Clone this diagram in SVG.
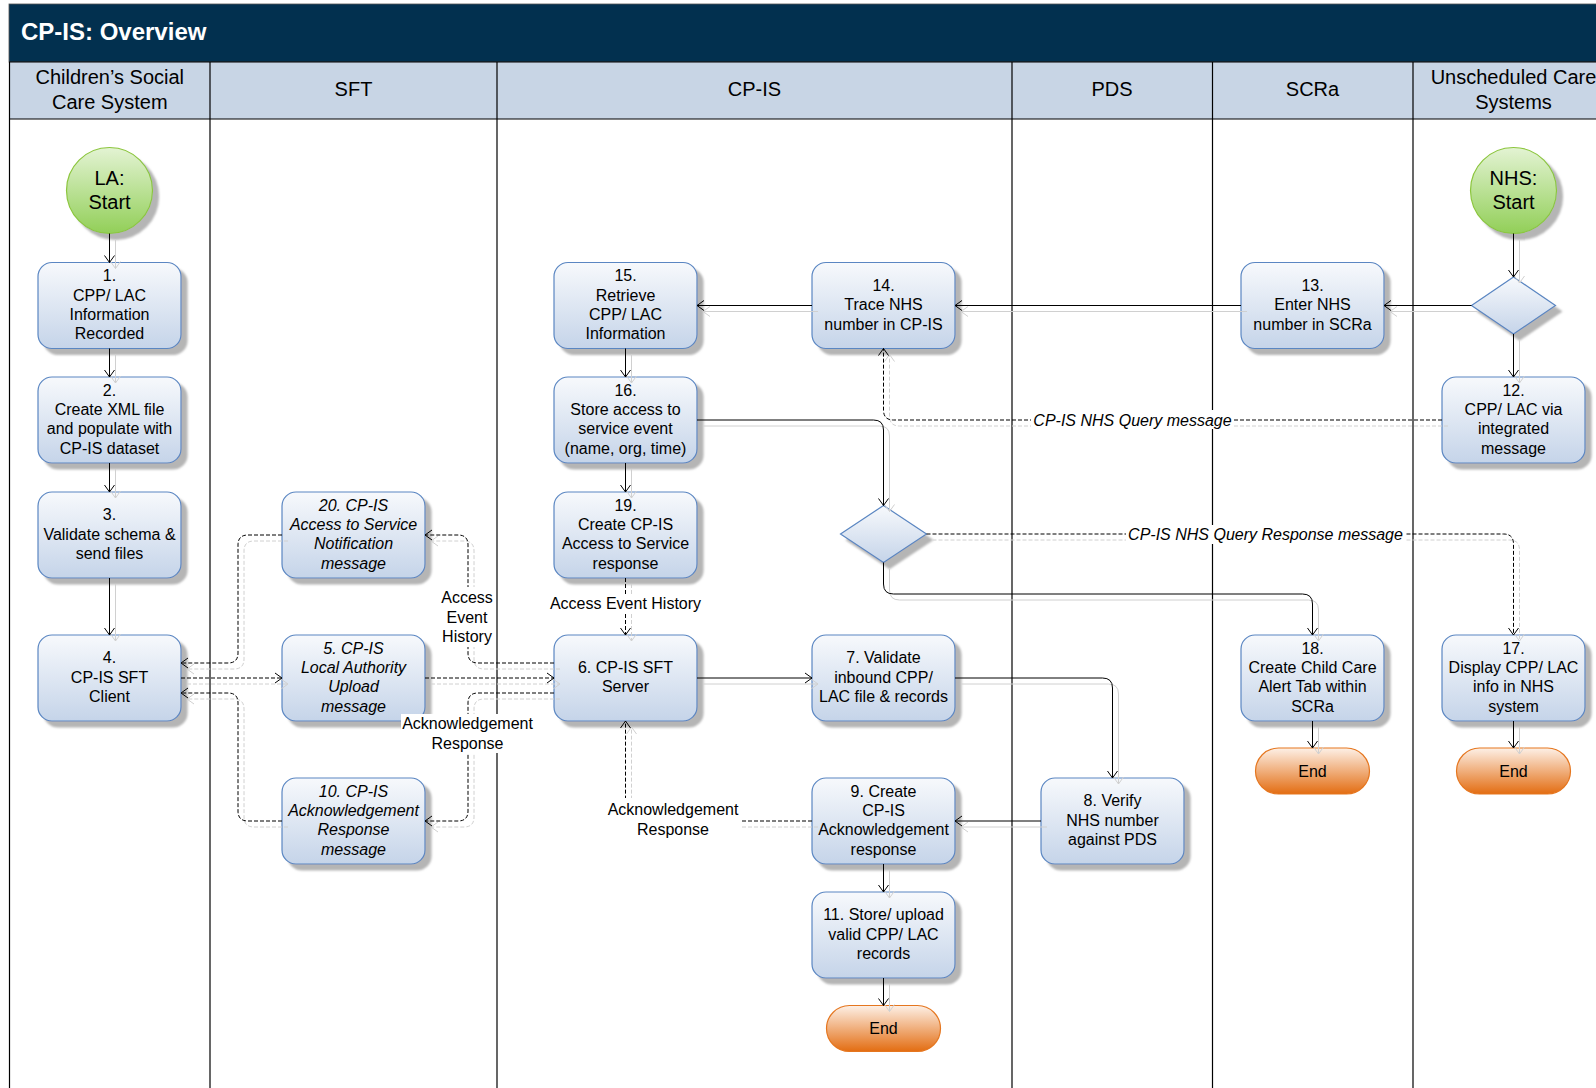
<svg xmlns="http://www.w3.org/2000/svg" xmlns:xlink="http://www.w3.org/1999/xlink" width="1596" height="1088" viewBox="0 0 1596 1088">
<defs>
<style>
text { font-family: "Liberation Sans", Arial, sans-serif; fill: #000; }
.t { font-size: 16px; text-anchor: middle; }
.it { font-style: italic; }
.h { font-size: 20px; text-anchor: middle; }
.big { font-size: 20px; text-anchor: middle; }
.title { font-size: 24px; font-weight: bold; fill: #ffffff; }
.box { fill: url(#gBox); stroke: #5a86c2; stroke-width: 1.2; filter: url(#sh); }
.start { fill: url(#gGreen); stroke: #8cc63e; stroke-width: 1.2; filter: url(#sh); }
.end { fill: url(#gOrange); stroke: #e5761f; stroke-width: 1.2; }
.lane { stroke: #000; stroke-width: 1.2; fill: none; }
.d { stroke-dasharray: 4 2; }
.lblbg { fill: #ffffff; }
</style>
<linearGradient id="gBox" x1="0" y1="0" x2="0" y2="1">
<stop offset="0" stop-color="#f7f9fc"/>
<stop offset="1" stop-color="#c5d4e9"/>
</linearGradient>
<linearGradient id="gGreen" x1="0" y1="0" x2="0" y2="1">
<stop offset="0" stop-color="#e3f3d3"/>
<stop offset="1" stop-color="#92cf58"/>
</linearGradient>
<linearGradient id="gOrange" x1="0" y1="0" x2="0" y2="1">
<stop offset="0" stop-color="#fdf0e6"/>
<stop offset="1" stop-color="#e36d12"/>
</linearGradient>
<filter id="sh" x="-10%" y="-10%" width="130%" height="135%">
<feGaussianBlur in="SourceAlpha" stdDeviation="1.2" result="blur"/>
<feOffset in="blur" dx="6" dy="6" result="off"/>
<feFlood flood-color="#b5b5b5"/>
<feComposite in2="off" operator="in" result="shd"/>
<feMerge><feMergeNode in="shd"/><feMergeNode in="SourceGraphic"/></feMerge>
</filter>
<marker id="ah" markerUnits="userSpaceOnUse" viewBox="-9 -7 10 14" refX="0" refY="0" markerWidth="10" markerHeight="14" orient="auto">
<path d="M-7,-5 L0,0 L-7,5" fill="none" stroke="#000" stroke-width="1"/>
</marker>
<marker id="ahg" markerUnits="userSpaceOnUse" viewBox="-9 -7 10 14" refX="0" refY="0" markerWidth="10" markerHeight="14" orient="auto">
<path d="M-7,-5 L0,0 L-7,5" fill="none" stroke="#d0d0d0" stroke-width="1"/>
</marker>
</defs>

<rect x="0" y="0" width="1596" height="1088" fill="#ffffff"/>

<!-- Title and lane headers -->
<g id="header">
<rect x="9" y="4" width="1600" height="58" fill="#02304f" stroke="#555" stroke-width="0.8"/>
<text class="title" x="21" y="40">CP-IS: Overview</text>
<rect x="9" y="62" width="1600" height="57" fill="#c8d5e5"/>
<line class="lane" x1="9" y1="62" x2="1596" y2="62"/>
<line class="lane" x1="9" y1="119" x2="1596" y2="119"/>
<text class="h" x="109.75" y="84">Children’s Social</text>
<text class="h" x="109.75" y="109">Care System</text>
<text class="h" x="353.5" y="96">SFT</text>
<text class="h" x="754.5" y="96">CP-IS</text>
<text class="h" x="1112" y="96">PDS</text>
<text class="h" x="1312.5" y="96">SCRa</text>
<text class="h" x="1513.5" y="84">Unscheduled Care</text>
<text class="h" x="1513.5" y="109">Systems</text>
</g>

<g id="lanes">
<line class="lane" x1="9.5" y1="62" x2="9.5" y2="1088"/>
<line class="lane" x1="210" y1="62" x2="210" y2="1088"/>
<line class="lane" x1="497" y1="62" x2="497" y2="1088"/>
<line class="lane" x1="1012" y1="62" x2="1012" y2="1088"/>
<line class="lane" x1="1212.5" y1="62" x2="1212.5" y2="1088"/>
<line class="lane" x1="1413" y1="62" x2="1413" y2="1088"/>
</g>

<g id="nodes">
<g id="n-la-start">
<circle class="start" cx="109.5" cy="190.5" r="43"/>
<text class="big" x="109.5" y="185">LA:</text>
<text class="big" x="109.5" y="209">Start</text>
</g>
<g id="n1">
<rect class="box" x="38" y="262.5" width="143" height="86" rx="14"/>
<text class="t" x="109.5" y="281.3">1.</text>
<text class="t" x="109.5" y="300.6">CPP/ LAC</text>
<text class="t" x="109.5" y="319.9">Information</text>
<text class="t" x="109.5" y="339.2">Recorded</text>
</g>
<g id="n2">
<rect class="box" x="38" y="377" width="143" height="86" rx="14"/>
<text class="t" x="109.5" y="395.8">2.</text>
<text class="t" x="109.5" y="415.1">Create XML file</text>
<text class="t" x="109.5" y="434.4">and populate with</text>
<text class="t" x="109.5" y="453.7">CP-IS dataset</text>
</g>
<g id="n3">
<rect class="box" x="38" y="492" width="143" height="86" rx="14"/>
<text class="t" x="109.5" y="520.4">3.</text>
<text class="t" x="109.5" y="539.7">Validate schema &amp;</text>
<text class="t" x="109.5" y="559">send files</text>
</g>
<g id="n4">
<rect class="box" x="38" y="635" width="143" height="86" rx="14"/>
<text class="t" x="109.5" y="663.4">4.</text>
<text class="t" x="109.5" y="682.7">CP-IS SFT</text>
<text class="t" x="109.5" y="702">Client</text>
</g>
<g id="n20">
<rect class="box" x="282" y="492" width="143" height="86" rx="14"/>
<text class="t it" x="353.5" y="510.8">20. CP-IS</text>
<text class="t it" x="353.5" y="530.1">Access to Service</text>
<text class="t it" x="353.5" y="549.4">Notification</text>
<text class="t it" x="353.5" y="568.7">message</text>
</g>
<g id="n5">
<rect class="box" x="282" y="635" width="143" height="86" rx="14"/>
<text class="t it" x="353.5" y="653.8">5. CP-IS</text>
<text class="t it" x="353.5" y="673.1">Local Authority</text>
<text class="t it" x="353.5" y="692.4">Upload</text>
<text class="t it" x="353.5" y="711.7">message</text>
</g>
<g id="n10">
<rect class="box" x="282" y="778" width="143" height="86" rx="14"/>
<text class="t it" x="353.5" y="796.8">10. CP-IS</text>
<text class="t it" x="353.5" y="816.1">Acknowledgement</text>
<text class="t it" x="353.5" y="835.4">Response</text>
<text class="t it" x="353.5" y="854.7">message</text>
</g>
<g id="n15">
<rect class="box" x="554" y="262.5" width="143" height="86" rx="14"/>
<text class="t" x="625.5" y="281.3">15.</text>
<text class="t" x="625.5" y="300.6">Retrieve</text>
<text class="t" x="625.5" y="319.9">CPP/ LAC</text>
<text class="t" x="625.5" y="339.2">Information</text>
</g>
<g id="n16">
<rect class="box" x="554" y="377" width="143" height="86" rx="14"/>
<text class="t" x="625.5" y="395.8">16.</text>
<text class="t" x="625.5" y="415.1">Store access to</text>
<text class="t" x="625.5" y="434.4">service event</text>
<text class="t" x="625.5" y="453.7">(name, org, time)</text>
</g>
<g id="n19">
<rect class="box" x="554" y="492" width="143" height="86" rx="14"/>
<text class="t" x="625.5" y="510.8">19.</text>
<text class="t" x="625.5" y="530.1">Create CP-IS</text>
<text class="t" x="625.5" y="549.4">Access to Service</text>
<text class="t" x="625.5" y="568.7">response</text>
</g>
<g id="n6">
<rect class="box" x="554" y="635" width="143" height="86" rx="14"/>
<text class="t" x="625.5" y="672.5">6. CP-IS SFT</text>
<text class="t" x="625.5" y="691.8">Server</text>
</g>
<g id="n14">
<rect class="box" x="812" y="262.5" width="143" height="86" rx="14"/>
<text class="t" x="883.5" y="290.9">14.</text>
<text class="t" x="883.5" y="310.2">Trace NHS</text>
<text class="t" x="883.5" y="329.5">number in CP-IS</text>
</g>
<g id="n-d2">
<polygon class="box" points="883.5,505.5 926.5,534 883.5,562.5 840.5,534"/>
</g>
<g id="n7">
<rect class="box" x="812" y="635" width="143" height="86" rx="14"/>
<text class="t" x="883.5" y="663.4">7. Validate</text>
<text class="t" x="883.5" y="682.7">inbound CPP/</text>
<text class="t" x="883.5" y="702">LAC file &amp; records</text>
</g>
<g id="n9">
<rect class="box" x="812" y="778" width="143" height="86" rx="14"/>
<text class="t" x="883.5" y="796.8">9. Create</text>
<text class="t" x="883.5" y="816.1">CP-IS</text>
<text class="t" x="883.5" y="835.4">Acknowledgement</text>
<text class="t" x="883.5" y="854.7">response</text>
</g>
<g id="n11">
<rect class="box" x="812" y="892" width="143" height="86" rx="14"/>
<text class="t" x="883.5" y="920.4">11. Store/ upload</text>
<text class="t" x="883.5" y="939.7">valid CPP/ LAC</text>
<text class="t" x="883.5" y="959">records</text>
</g>
<g id="n-end1">
<rect class="end" x="826.5" y="1005.5" width="114" height="46" rx="23"/>
<text class="t" x="883.5" y="1034.2">End</text>
</g>
<g id="n8">
<rect class="box" x="1041" y="778" width="143" height="86" rx="14"/>
<text class="t" x="1112.5" y="806.4">8. Verify</text>
<text class="t" x="1112.5" y="825.7">NHS number</text>
<text class="t" x="1112.5" y="845">against PDS</text>
</g>
<g id="n13">
<rect class="box" x="1241" y="262.5" width="143" height="86" rx="14"/>
<text class="t" x="1312.5" y="290.9">13.</text>
<text class="t" x="1312.5" y="310.2">Enter NHS</text>
<text class="t" x="1312.5" y="329.5">number in SCRa</text>
</g>
<g id="n18">
<rect class="box" x="1241" y="635" width="143" height="86" rx="14"/>
<text class="t" x="1312.5" y="653.8">18.</text>
<text class="t" x="1312.5" y="673.1">Create Child Care</text>
<text class="t" x="1312.5" y="692.4">Alert Tab within</text>
<text class="t" x="1312.5" y="711.7">SCRa</text>
</g>
<g id="n-end2">
<rect class="end" x="1255.5" y="748" width="114" height="46" rx="23"/>
<text class="t" x="1312.5" y="776.7">End</text>
</g>
<g id="n-nhs-start">
<circle class="start" cx="1513.5" cy="190.5" r="43"/>
<text class="big" x="1513.5" y="185">NHS:</text>
<text class="big" x="1513.5" y="209">Start</text>
</g>
<g id="n-d1">
<polygon class="box" points="1513.5,277 1555.5,305.5 1513.5,334 1471.5,305.5"/>
</g>
<g id="n12">
<rect class="box" x="1442" y="377" width="143" height="86" rx="14"/>
<text class="t" x="1513.5" y="395.8">12.</text>
<text class="t" x="1513.5" y="415.1">CPP/ LAC via</text>
<text class="t" x="1513.5" y="434.4">integrated</text>
<text class="t" x="1513.5" y="453.7">message</text>
</g>
<g id="n17">
<rect class="box" x="1442" y="635" width="143" height="86" rx="14"/>
<text class="t" x="1513.5" y="653.8">17.</text>
<text class="t" x="1513.5" y="673.1">Display CPP/ LAC</text>
<text class="t" x="1513.5" y="692.4">info in NHS</text>
<text class="t" x="1513.5" y="711.7">system</text>
</g>
<g id="n-end3">
<rect class="end" x="1456.5" y="748" width="114" height="46" rx="23"/>
<text class="t" x="1513.5" y="776.7">End</text>
</g>
</g>

<g id="connectors" fill="none" stroke="#000" stroke-width="1" marker-end="url(#ah)">
<use xlink:href="#conn-lines" href="#conn-lines" transform="translate(6,6)" stroke="#d0d0d0" marker-end="url(#ahg)"/>
<g id="conn-lines">
<path id="c-la-1" d="M109.5 233.5 V262.5"/>
<path id="c-1-2" d="M109.5 348.5 V377"/>
<path id="c-2-3" d="M109.5 463 V492"/>
<path id="c-3-4" d="M109.5 578 V635"/>
<path id="c-6-7" d="M697 678 H812"/>
<path id="c-7-8" d="M955 678 H1102.5 Q1112.5 678 1112.5 688 V778"/>
<path id="c-8-9" d="M1041 821 H955"/>
<path id="c-9-11" d="M883.5 864 V892"/>
<path id="c-11-end" d="M883.5 978 V1005.5"/>
<path id="c-nhs-d1" d="M1513.5 233.5 V277"/>
<path id="c-d1-13" d="M1471.5 305.5 H1384"/>
<path id="c-13-14" d="M1241 305.5 H955"/>
<path id="c-14-15" d="M812 305.5 H697"/>
<path id="c-d1-12" d="M1513.5 334 V377"/>
<path id="c-15-16" d="M625.5 348.5 V377"/>
<path id="c-16-19" d="M625.5 463 V492"/>
<path id="c-16-d2" d="M697 420 H873.5 Q883.5 420 883.5 430 V505.5"/>
<path id="c-d2-18" d="M883.5 562.5 V584 Q883.5 594 893.5 594 H1302.5 Q1312.5 594 1312.5 604 V635"/>
<path id="c-18-end" d="M1312.5 721 V748"/>
<path id="c-17-end" d="M1513.5 721 V748"/>
<path id="c-20-4" class="d" d="M282 535 H248 Q238 535 238 545 V653 Q238 663 228 663 H181"/>
<path id="c-4-5" class="d" d="M181 678 H282"/>
<path id="c-10-4" class="d" d="M282 821 H248 Q238 821 238 811 V703 Q238 693 228 693 H181"/>
<path id="c-5-6" class="d" d="M425 678 H554"/>
<path id="c-6-20" class="d" d="M554 663 H478 Q468 663 468 653 V545 Q468 535 458 535 H425"/>
<path id="c-6-10" class="d" d="M554 693 H478 Q468 693 468 703 V811 Q468 821 458 821 H425"/>
<path id="c-19-6" class="d" d="M625.5 578 V635"/>
<path id="c-9-6" class="d" d="M812 821 H635.5 Q625.5 821 625.5 811 V721"/>
<path id="c-12-14" class="d" d="M1442 420 H893.5 Q883.5 420 883.5 410 V348.5"/>
<path id="c-d2-17" class="d" d="M926.5 534 H1503.5 Q1513.5 534 1513.5 544 V635"/>
</g>
</g>

<g id="connector-labels">
<rect class="lblbg" x="437" y="587" width="57" height="60"/>
<text class="t" x="467" y="603.2">Access</text>
<text class="t" x="467" y="622.7">Event</text>
<text class="t" x="467" y="642.2">History</text>
<rect class="lblbg" x="401" y="714" width="133" height="39"/>
<text class="t" x="467.5" y="729">Acknowledgement</text>
<text class="t" x="467.5" y="749">Response</text>
<rect class="lblbg" x="549" y="594" width="153" height="19"/>
<text class="t" x="625.5" y="609.3">Access Event History</text>
<rect class="lblbg" x="606" y="798" width="134" height="41"/>
<text class="t" x="673" y="814.7">Acknowledgement</text>
<text class="t" x="673" y="834.7">Response</text>
<rect class="lblbg" x="1031" y="410" width="203" height="19"/>
<text class="t it" x="1132.5" y="425.5">CP-IS NHS Query message</text>
<rect class="lblbg" x="1126" y="525" width="279" height="19"/>
<text class="t it" x="1265.5" y="539.5">CP-IS NHS Query Response message</text>
</g>
</svg>
